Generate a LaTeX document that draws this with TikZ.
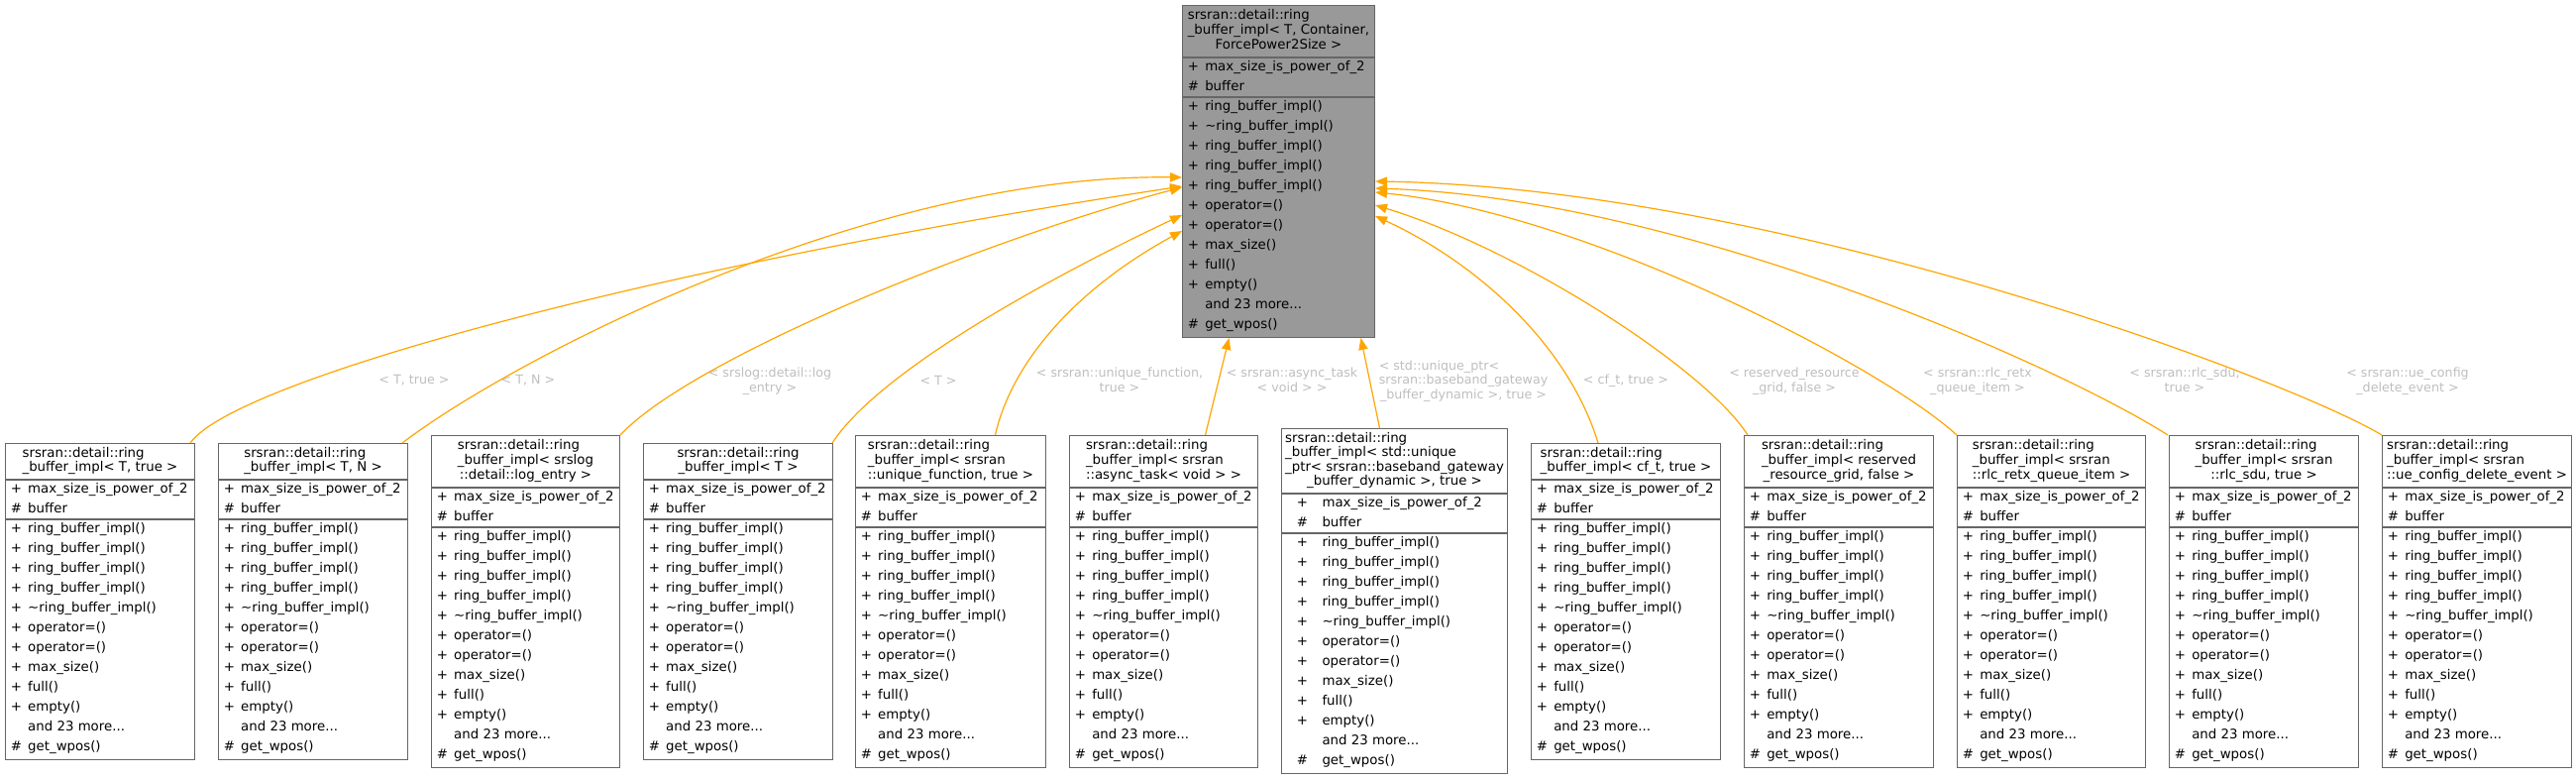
\documentclass[tikz,border=0pt]{standalone}
\usepackage{fontspec}
\setmainfont{DejaVu Sans}
\usepackage{array}
\usetikzlibrary{arrows.meta,calc}
\definecolor{dxframe}{RGB}{102,102,102}
\definecolor{dxbase}{RGB}{153,153,153}
\definecolor{dxedge}{RGB}{255,165,0}
\definecolor{dxlabel}{RGB}{190,190,190}

% rows of fixed height
\renewcommand{\arraystretch}{0}
\newcommand{\tstrut}{\rule[-3.2pt]{0pt}{10.9pt}}
\newcommand{\mstrut}{\rule[-5.25pt]{0pt}{15pt}}
\newcommand{\tline}[1]{#1\tstrut\\}
\newcommand{\tlast}[1]{\multicolumn{1}{@{}c@{}}{#1\tstrut}}
\newcommand{\mrow}[2]{#1 & #2\\}
\newcommand{\twolines}[2]{\begin{tabular}{@{}l@{}}\tline{#1}\tlast{#2}\end{tabular}}

% member lists
\newcommand{\rbattrs}{\mrow{+}{max\_size\_is\_power\_of\_2}\mrow{\#}{buffer}}
\newcommand{\rbbasemethods}{%
  \mrow{+}{ring\_buffer\_impl()}\mrow{+}{\textasciitilde ring\_buffer\_impl()}%
  \mrow{+}{ring\_buffer\_impl()}\mrow{+}{ring\_buffer\_impl()}\mrow{+}{ring\_buffer\_impl()}%
  \mrow{+}{operator=()}\mrow{+}{operator=()}\mrow{+}{max\_size()}%
  \mrow{+}{full()}\mrow{+}{empty()}\mrow{}{and 23 more...}\mrow{\#}{get\_wpos()}}
\newcommand{\rbmethods}{%
  \mrow{+}{ring\_buffer\_impl()}\mrow{+}{ring\_buffer\_impl()}%
  \mrow{+}{ring\_buffer\_impl()}\mrow{+}{ring\_buffer\_impl()}%
  \mrow{+}{\textasciitilde ring\_buffer\_impl()}%
  \mrow{+}{operator=()}\mrow{+}{operator=()}\mrow{+}{max\_size()}%
  \mrow{+}{full()}\mrow{+}{empty()}\mrow{}{and 23 more...}\mrow{\#}{get\_wpos()}}

\def\symx{5.5}
\def\symw{13.1pt}

% #1 name, #2 left, #3 top, #4 right, #5 title height, #6 fill, #7 title, #8 methods
\newcommand{\rbclass}[8]{%
  \node[classbox, fill=#6, minimum width={(#4-#2)*0.75pt},
        minimum height={(#5+282)*0.75pt}] (#1) at (#2,#3) {};
  \draw[sepline] ($(#1.north west)+(0,#5)$) -- ($(#1.north east)+(0,#5)$);
  \draw[sepline] ($(#1.north west)+(0,#5+40)$) -- ($(#1.north east)+(0,#5+40)$);
  \node[classtext] (#1-title) at ($(#1.north)+(0,#5/2)$)
    {\begin{tabular}{@{}l@{}}#7\end{tabular}};
  \node[classtext, anchor=north west] (#1-attr) at ($(#1.north west)+(\symx,#5)$)
    {\begin{tabular}{@{}>{\mstrut}w{l}{\symw}@{}l@{}}\rbattrs\end{tabular}};
  \node[classtext, anchor=north west] (#1-ops) at ($(#1.north west)+(\symx,#5+40)$)
    {\begin{tabular}{@{}>{\mstrut}w{l}{\symw}@{}l@{}}#8\end{tabular}};
}

\begin{document}
\begin{tikzpicture}[
    x=0.75pt, y=-0.75pt,
    classbox/.style={rectangle, draw=dxframe, line width=0.75pt, inner sep=0pt,
                     anchor=north west},
    sepline/.style={dxframe, line width=1pt},
    classtext/.style={inner sep=0pt, font=\fontsize{10}{10.9}\selectfont},
    tmpl/.style={dxedge, line width=0.9pt, -{Triangle[length=9pt,width=7pt]}},
    edgelabel/.style={inner sep=0pt, text=dxlabel, font=\fontsize{9.5}{10.9}\selectfont},
  ]
  \useasboundingbox (0,0) rectangle (2600,787);

  % Basisklasse
  \rbclass{base}{1193}{5}{1387}{53}{dxbase}{\tline{srsran::detail::ring}%
    \tline{\_buffer\_impl< T, Container,}\tlast{ForcePower2Size >}}{\rbbasemethods}

  % Instanzen
  \rbclass{b1}{5}{447}{196}{37}{white}{\tline{srsran::detail::ring}%
    \tlast{\_buffer\_impl< T, true >}}{\rbmethods}
  \rbclass{b2}{220}{447}{411}{37}{white}{\tline{srsran::detail::ring}%
    \tlast{\_buffer\_impl< T, N >}}{\rbmethods}
  \rbclass{b3}{435}{439}{625}{53}{white}{\tline{srsran::detail::ring}%
    \tline{\_buffer\_impl< srslog}\tlast{::detail::log\_entry >}}{\rbmethods}
  \rbclass{b4}{649}{447}{840}{37}{white}{\tline{srsran::detail::ring}%
    \tlast{\_buffer\_impl< T >}}{\rbmethods}
  \rbclass{b5}{863}{439}{1055}{53}{white}{\tline{srsran::detail::ring}%
    \tline{\_buffer\_impl< srsran}\tlast{::unique\_function, true >}}{\rbmethods}
  \rbclass{b6}{1079}{439}{1269}{53}{white}{\tline{srsran::detail::ring}%
    \tline{\_buffer\_impl< srsran}\tlast{::async\_task< void > >}}{\rbmethods}
  \def\symx{15.5}\def\symw{19.3pt}
  \rbclass{b7}{1293}{432}{1521}{66}{white}{\tline{srsran::detail::ring}%
    \tline{\_buffer\_impl< std::unique}\tline{\_ptr< srsran::baseband\_gateway}%
    \tlast{\_buffer\_dynamic >, true >}}{\rbmethods}
  \def\symx{5.5}\def\symw{13.1pt}
  \rbclass{b8}{1545}{447}{1736}{37}{white}{\tline{srsran::detail::ring}%
    \tlast{\_buffer\_impl< cf\_t, true >}}{\rbmethods}
  \rbclass{b9}{1760}{439}{1951}{53}{white}{\tline{srsran::detail::ring}%
    \tline{\_buffer\_impl< reserved}\tlast{\_resource\_grid, false >}}{\rbmethods}
  \rbclass{b10}{1975}{439}{2165}{53}{white}{\tline{srsran::detail::ring}%
    \tline{\_buffer\_impl< srsran}\tlast{::rlc\_retx\_queue\_item >}}{\rbmethods}
  \rbclass{b11}{2189}{439}{2380}{53}{white}{\tline{srsran::detail::ring}%
    \tline{\_buffer\_impl< srsran}\tlast{::rlc\_sdu, true >}}{\rbmethods}
  \rbclass{b12}{2404}{439}{2595}{53}{white}{\tline{srsran::detail::ring}%
    \tline{\_buffer\_impl< srsran}\tlast{::ue\_config\_delete\_event >}}{\rbmethods}

  % Kanten
  \draw[tmpl] ($(b1.north east)+(-5,0)$) .. controls (235,385) and (650,270)
    .. ($(base.north west)+(0,183)$);
  \draw[tmpl] ($(b2.north east)+(-6,0)$) .. controls (520,360) and (880,175)
    .. ($(base.north west)+(0,174)$);
  \draw[tmpl] (b3.north east) .. controls (700,360) and (1000,240)
    .. ($(base.north west)+(0,184)$);
  \draw[tmpl] ($(b4.north east)+(-1,0)$) .. controls (890,370) and (1080,270)
    .. ($(base.north west)+(0,212)$);
  \draw[tmpl] ($(b5.north)+(45,0)$) .. controls (1020,370) and (1080,295)
    .. ($(base.north west)+(0,228)$);
  \draw[tmpl] ($(b6.north)+(42,0)$) -- ($(base.south)+(-50,0)$);
  \draw[tmpl] ($(b7.north)+(-15,0)$) -- ($(base.south)+(83,0)$);
  \draw[tmpl] ($(b8.north)+(-28,0)$) .. controls (1580,340) and (1480,260)
    .. ($(base.north east)+(0,213)$);
  \draw[tmpl] ($(b9.north west)+(4,0)$) .. controls (1720,370) and (1530,250)
    .. ($(base.north east)+(0,202)$);
  \draw[tmpl] (b10.north west) .. controls (1900,370) and (1600,215)
    .. ($(base.north east)+(0,189)$);
  \draw[tmpl] ($(b11.north west)+(-1,0)$) .. controls (2080,370) and (1700,200)
    .. ($(base.north east)+(0,185)$);
  \draw[tmpl] (b12.north west) .. controls (2315,385) and (1800,190)
    .. ($(base.north east)+(0,178)$);

  % Beschriftungen
  \node[edgelabel] (l1) at (418,384) {< T, true >};
  \node[edgelabel] (l2) at (533,384) {< T, N >};
  \node[edgelabel] (l3) at (777,385) {\twolines{< srslog::detail::log}{\_entry >}};
  \node[edgelabel] (l4) at (947,384) {< T >};
  \node[edgelabel] (l5) at (1130,385) {\twolines{< srsran::unique\_function,}{true >}};
  \node[edgelabel] (l6) at (1304,385) {\twolines{< srsran::async\_task}{< void > >}};
  \node[edgelabel] (l7) at (1477,385) {\begin{tabular}{@{}l@{}}\tline{< std::unique\_ptr<}%
    \tline{srsran::baseband\_gateway}\tlast{\_buffer\_dynamic >, true >}\end{tabular}};
  \node[edgelabel] (l8) at (1641,384) {< cf\_t, true >};
  \node[edgelabel] (l9) at (1811,385) {\twolines{< reserved\_resource}{\_grid, false >}};
  \node[edgelabel] (l10) at (1996,385) {\twolines{< srsran::rlc\_retx}{\_queue\_item >}};
  \node[edgelabel] (l11) at (2205,385) {\twolines{< srsran::rlc\_sdu,}{true >}};
  \node[edgelabel] (l12) at (2430,385) {\twolines{< srsran::ue\_config}{\_delete\_event >}};
\end{tikzpicture}
\end{document}
